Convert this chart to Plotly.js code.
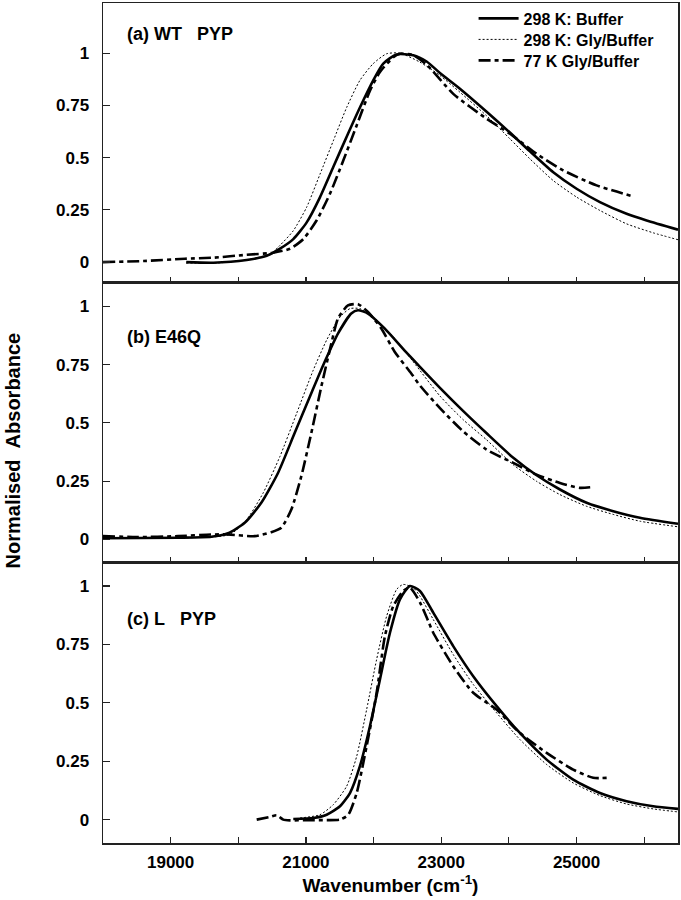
<!DOCTYPE html>
<html>
<head>
<meta charset="utf-8">
<script src="https://cdn.plot.ly/plotly-3.0.1.min.js"></script>
<style>html,body{margin:0;padding:0;background:#fff;}#chart{width:681px;height:900px;}</style>
</head>
<body>
<div id="chart"></div>
<script>
// ---------- DATA ----------
const SERIES_NAMES = ["298 K: Buffer", "298 K: Gly/Buffer", "77 K Gly/Buffer"];
const PANEL_LABELS = ["(a) WT\u00a0\u00a0\u00a0PYP", "(b) E46Q", "(c) L\u00a0\u00a0\u00a0PYP"];

// Panel (a) WT PYP
const A_BUF_X = [19230, 19630, 20124, 20420, 20616, 20813, 21011, 21207, 21404, 21602, 21798, 21995, 22143, 22341, 22586, 22784, 22981, 23276, 23671, 24015, 24311, 24656, 25001, 25346, 25740, 26036, 26500];
const A_BUF_Y = [0.0, -0.003, 0.01, 0.03, 0.064, 0.11, 0.19, 0.31, 0.455, 0.60, 0.74, 0.87, 0.95, 0.994, 0.99, 0.96, 0.905, 0.83, 0.72, 0.62, 0.53, 0.43, 0.351, 0.287, 0.231, 0.199, 0.155];
const A_GLY_X = [19230, 19700, 20124, 20479, 20616, 20813, 21011, 21207, 21404, 21602, 21798, 21995, 22192, 22389, 22685, 22981, 23276, 23671, 24015, 24311, 24656, 25001, 25346, 25740, 26134, 26500];
const A_GLY_Y = [-0.005, -0.004, 0.01, 0.04, 0.08, 0.15, 0.263, 0.42, 0.58, 0.74, 0.87, 0.95, 0.997, 1.0, 0.957, 0.893, 0.813, 0.70, 0.59, 0.494, 0.39, 0.311, 0.247, 0.183, 0.14, 0.107];
const A_77K_X = [18000, 18600, 19212, 19630, 20124, 20517, 20764, 20961, 21159, 21355, 21552, 21750, 21946, 22094, 22291, 22389, 22586, 22784, 23178, 23671, 24015, 24410, 24803, 25296, 25838];
const A_77K_Y = [0.0, 0.005, 0.016, 0.021, 0.035, 0.045, 0.064, 0.11, 0.20, 0.327, 0.486, 0.654, 0.82, 0.91, 0.98, 0.997, 0.99, 0.945, 0.805, 0.686, 0.614, 0.518, 0.439, 0.367, 0.314];

// Panel (b) E46Q
const B_BUF_X = [18000, 19108, 19601, 19848, 20095, 20340, 20587, 20833, 21079, 21277, 21473, 21670, 21769, 21917, 22163, 22459, 22685, 22981, 23326, 23671, 24065, 24410, 24755, 25149, 25543, 25937, 26500];
const B_BUF_Y = [0.005, 0.007, 0.011, 0.026, 0.071, 0.157, 0.285, 0.456, 0.627, 0.762, 0.883, 0.969, 0.983, 0.969, 0.905, 0.81, 0.74, 0.65, 0.55, 0.455, 0.35, 0.275, 0.214, 0.157, 0.121, 0.093, 0.067];
const B_GLY_X = [18000, 19108, 19877, 20124, 20369, 20616, 20863, 21108, 21306, 21503, 21651, 21798, 21995, 22291, 22586, 22981, 23326, 23671, 24065, 24410, 24755, 25149, 25543, 25937, 26500];
const B_GLY_Y = [0.005, 0.006, 0.021, 0.085, 0.20, 0.356, 0.541, 0.726, 0.855, 0.954, 0.99, 0.99, 0.954, 0.869, 0.762, 0.615, 0.513, 0.427, 0.32, 0.249, 0.192, 0.142, 0.107, 0.078, 0.054];
const B_77K_X = [18000, 18500, 19108, 19601, 19848, 20242, 20488, 20636, 20784, 20931, 21079, 21227, 21375, 21473, 21621, 21769, 21917, 22114, 22311, 22557, 22685, 22981, 23326, 23671, 24065, 24410, 24755, 25050, 25247];
const B_77K_Y = [0.014, 0.01, 0.014, 0.021, 0.021, 0.014, 0.031, 0.05, 0.128, 0.27, 0.456, 0.655, 0.84, 0.947, 1.004, 1.009, 0.976, 0.905, 0.805, 0.712, 0.66, 0.563, 0.463, 0.385, 0.328, 0.278, 0.242, 0.221, 0.225];

// Panel (c) L PYP
const C_BUF_X = [20813, 21108, 21306, 21503, 21651, 21798, 21946, 22094, 22242, 22390, 22537, 22685, 22882, 23177, 23473, 23819, 24163, 24558, 24951, 25346, 25740, 26133, 26500];
const C_BUF_Y = [0.003, 0.007, 0.021, 0.057, 0.114, 0.229, 0.40, 0.60, 0.80, 0.943, 1.0, 0.979, 0.886, 0.743, 0.614, 0.486, 0.371, 0.257, 0.171, 0.114, 0.079, 0.057, 0.046];
const C_GLY_X = [20912, 21207, 21404, 21602, 21750, 21897, 22045, 22193, 22341, 22438, 22586, 22685, 22882, 23177, 23473, 23819, 24163, 24558, 24951, 25346, 25740, 26133, 26500];
const C_GLY_Y = [0.007, 0.021, 0.064, 0.143, 0.271, 0.471, 0.686, 0.871, 0.986, 1.007, 0.993, 0.957, 0.857, 0.707, 0.579, 0.457, 0.343, 0.236, 0.157, 0.103, 0.067, 0.046, 0.033];
const C_77K_X = [20272, 20468, 20567, 20665, 20764, 21000, 21250, 21503, 21626, 21750, 21897, 22045, 22168, 22291, 22438, 22537, 22685, 22808, 22882, 23177, 23473, 23819, 24163, 24558, 24951, 25247, 25445];
const C_77K_Y = [0.0, 0.012, 0.019, 0.0, -0.003, -0.002, -0.002, 0.0, 0.021, 0.114, 0.314, 0.543, 0.786, 0.914, 0.979, 0.993, 0.93, 0.85, 0.80, 0.657, 0.543, 0.471, 0.371, 0.286, 0.214, 0.179, 0.179];

const X_TICK_VALS = [19000, 21000, 23000, 25000];
const X_TICK_TEXT = ["19000", "21000", "23000", "25000"];
const X_MINOR_TICK_VALS = [20000, 22000, 24000, 26000];
const Y_TICK_VALS = [0, 0.25, 0.5, 0.75, 1];
const Y_TICK_TEXT = ["0", "0.25", "0.5", "0.75", "1"];
const X_RANGE = [18000, 26500];
const Y_RANGE_A = [-0.1, 1.24];
const Y_RANGE_BC = [-0.1, 1.1];

// ---------- STYLE ----------
const FONT = "Liberation Sans, Arial, Helvetica, sans-serif";
const INK = "#000";
const FRAME = "#222";
const lineStyles = [
  {color: INK, width: 2.6, dash: "solid"},
  {color: INK, width: 1, dash: "2px,2px"},
  {color: INK, width: 2.6, dash: "12px,4px,4px,4px"}
];
const LEGEND_IDS = ["legend", "legend2", "legend3"];

const panels = [
  {xs: [A_BUF_X, A_GLY_X, A_77K_X], ys: [A_BUF_Y, A_GLY_Y, A_77K_Y], xa: "x3", ya: "y"},
  {xs: [B_BUF_X, B_GLY_X, B_77K_X], ys: [B_BUF_Y, B_GLY_Y, B_77K_Y], xa: "x2", ya: "y2"},
  {xs: [C_BUF_X, C_GLY_X, C_77K_X], ys: [C_BUF_Y, C_GLY_Y, C_77K_Y], xa: "x", ya: "y3"}
];

const traces = [];
panels.forEach((p, pi) => {
  for (let s = 0; s < 3; s++) {
    traces.push({
      type: "scatter", mode: "lines",
      x: p.xs[s], y: p.ys[s],
      xaxis: p.xa, yaxis: p.ya,
      name: SERIES_NAMES[s],
      legend: LEGEND_IDS[s],
      showlegend: pi === 0,
      line: Object.assign({shape: "spline", smoothing: 0.6}, lineStyles[s]),
      hoverinfo: "skip"
    });
  }
});

const tickFont = {family: FONT, size: 17, color: INK, weight: "bold"};

function xAxis(anchor, labels) {
  return {
    anchor: anchor, range: X_RANGE, tickmode: "array",
    tickvals: X_TICK_VALS, ticktext: X_TICK_TEXT,
    minor: {tickmode: "array", tickvals: X_MINOR_TICK_VALS, ticks: "inside", ticklen: 6, tickwidth: 1.2, tickcolor: FRAME, showgrid: false},
    showticklabels: labels, ticks: "inside", ticklen: 6, tickwidth: 1.2, tickcolor: FRAME,
    ticklabelstandoff: 3,
    showline: true, mirror: true, linecolor: FRAME, linewidth: 1.5,
    showgrid: false, zeroline: false, tickfont: tickFont
  };
}
function yAxis(domain, range, anchor) {
  return {
    domain: domain, range: range, anchor: anchor,
    tickmode: "array", tickvals: Y_TICK_VALS, ticktext: Y_TICK_TEXT,
    ticks: "inside", ticklen: 7, tickwidth: 1.2, tickcolor: FRAME,
    ticklabelstandoff: 9,
    showline: true, mirror: true, linecolor: FRAME, linewidth: 1.5,
    showgrid: false, zeroline: false, tickfont: tickFont
  };
}

const legendFont = {family: FONT, size: 16, color: INK, weight: "bold"};
function legendAt(yPx) {
  return {
    x: 0.6445, y: (843 - yPx) / 841, xanchor: "left", yanchor: "middle",
    bgcolor: "rgba(0,0,0,0)", borderwidth: 0, font: legendFont, itemwidth: 40
  };
}
const labelFont = {family: FONT, size: 18, color: INK, weight: "bold"};

const layout = {
  width: 681, height: 900,
  margin: {l: 103, r: 3, t: 2, b: 57},
  paper_bgcolor: "#fff", plot_bgcolor: "#fff",
  font: {family: FONT, color: INK},
  showlegend: true,
  legend: legendAt(18.5),
  legend2: legendAt(39.5),
  legend3: legendAt(60.5),
  xaxis: Object.assign(xAxis("y3", true), {
    title: {text: "Wavenumber (cm<sup>-1</sup>)", font: {family: FONT, size: 19, color: INK, weight: "bold"}, standoff: 2}
  }),
  xaxis2: Object.assign(xAxis("y2", false), {matches: "x"}),
  xaxis3: Object.assign(xAxis("y", false), {matches: "x"}),
  yaxis: yAxis([0.6667, 1], Y_RANGE_A, "x3"),
  yaxis2: yAxis([0.3337, 0.6667], Y_RANGE_BC, "x2"),
  yaxis3: yAxis([0, 0.3337], Y_RANGE_BC, "x"),
  annotations: [
    {text: PANEL_LABELS[0], xref: "paper", yref: "paper", x: 0.039, y: 0.963, xanchor: "left", yanchor: "middle", showarrow: false, font: labelFont},
    {text: PANEL_LABELS[1], xref: "paper", yref: "paper", x: 0.039, y: 0.602, xanchor: "left", yanchor: "middle", showarrow: false, font: labelFont},
    {text: PANEL_LABELS[2], xref: "paper", yref: "paper", x: 0.039, y: 0.267, xanchor: "left", yanchor: "middle", showarrow: false, font: labelFont},
    {text: "Normalised\u00a0\u00a0Absorbance", xref: "paper", yref: "paper", x: -0.157, y: 0.467, xanchor: "center", yanchor: "middle", textangle: -90, showarrow: false, font: {family: FONT, size: 20, color: INK, weight: "bold"}}
  ]
};

Plotly.newPlot("chart", traces, layout, {staticPlot: true, displayModeBar: false});
</script>
</body>
</html>
